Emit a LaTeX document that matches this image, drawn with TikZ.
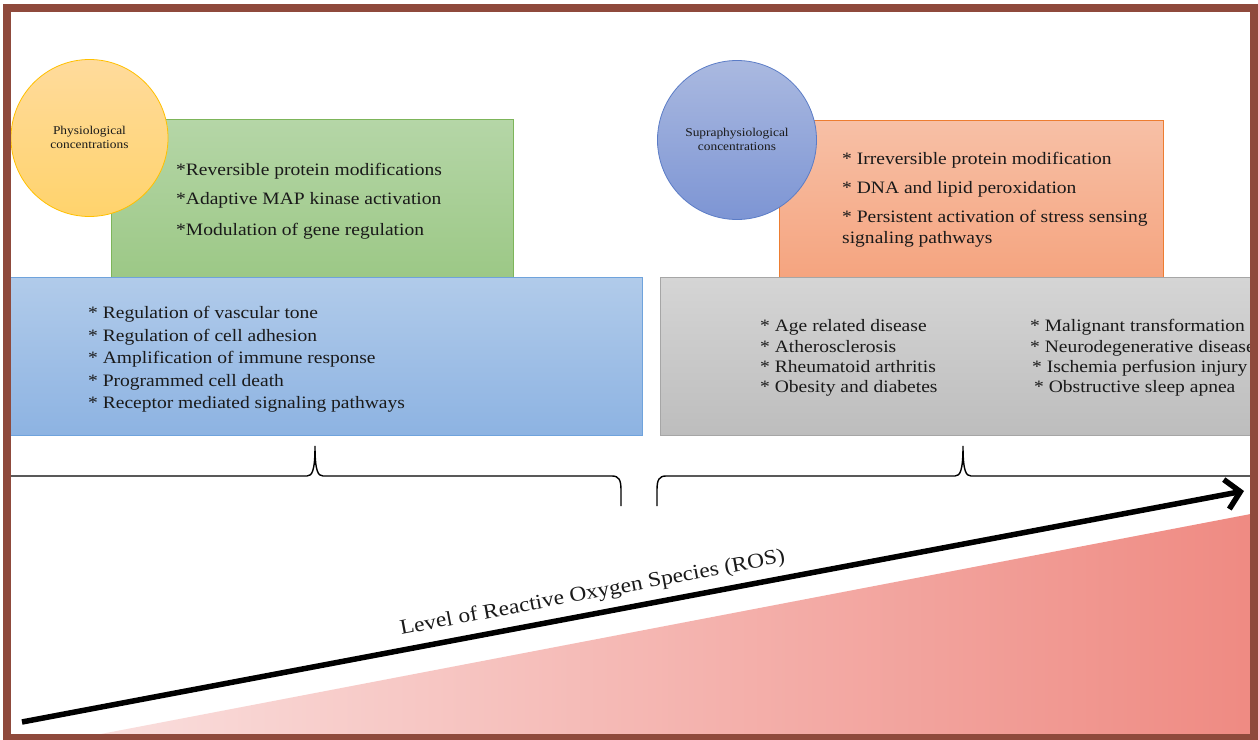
\documentclass[tikz,border=0pt]{standalone}
\usepackage{fontspec}
\setmainfont{Liberation Serif}[FakeStretch=1.12]
\usetikzlibrary{arrows.meta}
\definecolor{brownb}{HTML}{8F4A3C}
\definecolor{greenT}{HTML}{B5D6A7}
\definecolor{greenB}{HTML}{9CC886}
\definecolor{greenD}{HTML}{7DB55A}
\definecolor{orangeT}{HTML}{F7C0A6}
\definecolor{orangeB}{HTML}{F5A47F}
\definecolor{orangeD}{HTML}{ED7D31}
\definecolor{blueT}{HTML}{B1CBEA}
\definecolor{blueB}{HTML}{8DB3E2}
\definecolor{blueD}{HTML}{6FA3DC}
\definecolor{grayT}{HTML}{D5D5D5}
\definecolor{grayB}{HTML}{BDBDBD}
\definecolor{grayD}{HTML}{A6A6A6}
\definecolor{yelT}{HTML}{FFDB9C}
\definecolor{yelB}{HTML}{FFD36C}
\definecolor{yelD}{HTML}{FFC000}
\definecolor{bcT}{HTML}{AAB9E0}
\definecolor{bcB}{HTML}{7D95D4}
\definecolor{bcD}{HTML}{5B7CC6}
\definecolor{triL}{HTML}{FAE0DF}
\definecolor{triR}{HTML}{EF8A82}
\definecolor{txtc}{HTML}{1A1A1A}
\begin{document}
\begin{tikzpicture}[x=1bp,y=-1bp,
  box/.style={draw, line width=0.8bp, anchor=north west, inner sep=0pt},
  disc/.style={circle, draw, line width=0.8bp, inner sep=0pt},
  txt/.style={anchor=base west, inner sep=0pt, text=txtc, font=\fontsize{17.5}{20}\selectfont},
  lbl/.style={anchor=base, inner sep=0pt, text=txtc, font=\fontsize{12}{14}\selectfont},
  bracestyle/.style={draw=black, line width=1.4bp}]
\useasboundingbox (0,0) rectangle (1258,740);
\clip (0,0) rectangle (1258,740);
\fill[white] (0,0) rectangle (1258,740);

% red gradient triangle
\shade[left color=triL, right color=triR] (80,738) -- (1256,513) -- (1256,738) -- cycle;

% boxes
\node[box, draw=greenD, top color=greenT, bottom color=greenB, minimum width=402bp, minimum height=158bp] (green) at (111,119) {};
\node[box, draw=orangeD, top color=orangeT, bottom color=orangeB, minimum width=384bp, minimum height=157bp] (orange) at (779,120) {};
\node[box, draw=blueD, top color=blueT, bottom color=blueB, minimum width=632bp, minimum height=158bp] (blue) at (10,277) {};
\node[box, draw=grayD, top color=grayT, bottom color=grayB, minimum width=610bp, minimum height=158bp] (gray) at (660,277) {};

% circles
\node[disc, draw=yelD, top color=yelT, bottom color=yelB, minimum size=157bp] (phys) at (89.5,138) {};
\node[disc, draw=bcD, top color=bcT, bottom color=bcB, minimum size=159bp] (supra) at (737,140) {};
\node[lbl] (physA) at (89.5,134) {Physiological};
\node[lbl] (physB) at (89.5,148) {concentrations};
\node[lbl] (supraA) at (737,136) {Supraphysiological};
\node[lbl] (supraB) at (737,150) {concentrations};

% green text
\node[txt] (g1) at (176,175) {*Reversible protein modifications};
\node[txt] (g2) at (176,204) {*Adaptive MAP kinase activation};
\node[txt] (g3) at (176,235) {*Modulation of gene regulation};

% orange text
\node[txt] (o1) at (842,164) {* Irreversible protein modification};
\node[txt] (o2) at (842,193) {* DNA and lipid peroxidation};
\node[txt] (o3) at (842,222) {* Persistent activation of stress sensing};
\node[txt] (o4) at (842,243) {signaling pathways};

% blue text
\node[txt] (b1) at (88,318) {* Regulation of vascular tone};
\node[txt] (b2) at (88,341) {* Regulation of cell adhesion};
\node[txt] (b3) at (88,363) {* Amplification of immune response};
\node[txt] (b4) at (88,386) {* Programmed cell death};
\node[txt] (b5) at (88,408) {* Receptor mediated signaling pathways};

% gray text
\node[txt] (l1) at (760,331) {* Age related disease};
\node[txt] (l2) at (760,352) {* Atherosclerosis};
\node[txt] (l3) at (760,372) {* Rheumatoid arthritis};
\node[txt] (l4) at (760,392) {* Obesity and diabetes};
\node[txt] (r1) at (1030,331) {* Malignant transformation};
\node[txt] (r2) at (1030,352) {* Neurodegenerative disease};
\node[txt] (r3) at (1032,372) {* Ischemia perfusion injury};
\node[txt] (r4) at (1034,392) {* Obstructive sleep apnea};

% braces
\draw[bracestyle] (4,476) -- (307,476) .. controls (312,476) and (315,471) .. (315,446)
  .. controls (315,471) and (318,476) .. (323,476) -- (612,476)
  .. controls (619,476) and (621,480) .. (621,490) -- (621,506);
\draw[bracestyle] (657,506) -- (657,490) .. controls (657,480) and (659,476) .. (666,476)
  -- (955,476) .. controls (960,476) and (963,471) .. (963,446)
  .. controls (963,471) and (966,476) .. (971,476) -- (1262,476);

% ROS arrow
\coordinate (ta) at (22,722);
\coordinate (tb) at (1244,491);
\draw[line width=5.5bp, -{Straight Barb[length=14bp,width=30bp]}] (ta) -- node[pos=0.47, sloped, above=8bp, inner sep=0pt, text=txtc, font=\fontsize{21}{24}\selectfont] (ros) {Level of Reactive Oxygen Species (ROS)} (tb);

% frame
\draw[brownb, line width=8bp] (7,8.5) rectangle (1254,738);
\end{tikzpicture}
\end{document}
